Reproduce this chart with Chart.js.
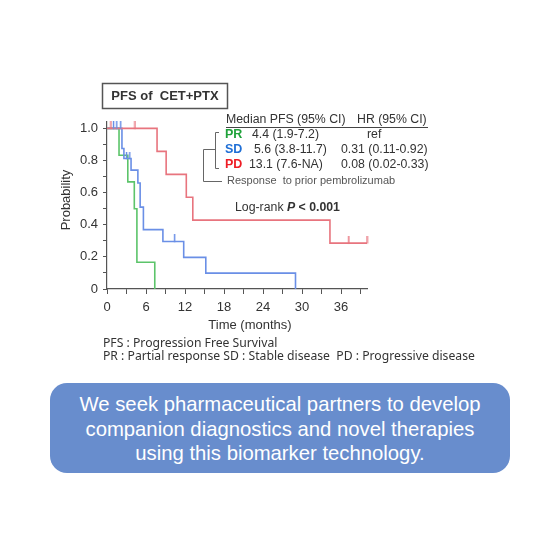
<!DOCTYPE html>
<html>
<head>
<meta charset="utf-8">
<script src="https://cdn.jsdelivr.net/npm/chart.js@4/dist/chart.umd.min.js"></script>
<style>
  html, body { margin: 0; padding: 0; background: #ffffff; }
  #wrap { position: relative; width: 560px; height: 560px; overflow: hidden; }
  #c { position: absolute; left: 0; top: 0; }
  .foot { position: absolute; left: 103px; font-family: "Noto Sans", "DejaVu Sans", sans-serif; font-size: 12.2px; color: #333; white-space: nowrap; line-height: 14px; }
  #banner { position: absolute; left: 50px; top: 383px; width: 460px; height: 90px; border-radius: 17px; background: #688dcd;
            color: #fff; font-family: "Liberation Sans", Arial, sans-serif; font-size: 20.3px; line-height: 24.5px; text-align: center;
            display: flex; align-items: center; justify-content: center; box-sizing: border-box; padding-top: 2px; }
</style>
</head>
<body>
<div id="wrap">
  <canvas id="c" width="560" height="560"></canvas>
  <div class="foot" style="top:336px">PFS : Progression Free Survival</div>
  <div class="foot" style="top:349px">PR : Partial response SD : Stable disease&nbsp; PD : Progressive disease</div>
  <div id="banner"><div>We seek pharmaceutical partners to develop<br>companion diagnostics and novel therapies<br>using this biomarker technology.</div></div>
</div>
<script>
// ---- data ----
const groups = ["PR", "SD", "PD"];
// step times (months) and survival probability after each step
const prTimes = [0, 1.85, 3.2, 4.2, 4.6, 7.35];
const prSurv  = [1.0, 0.833, 0.667, 0.5, 0.167, 0];
const sdTimes = [0, 2.3, 2.6, 3.7, 4.75, 5.1, 5.6, 8.6, 11.8, 15.2, 29.0];
const sdSurv  = [1.0, 0.875, 0.8125, 0.74, 0.66, 0.51, 0.37, 0.296, 0.197, 0.099, 0];
const pdTimes = [0, 7.7, 9.1, 12.2, 13.2, 34.3, 40];
const pdSurv  = [1.0, 0.857, 0.714, 0.571, 0.429, 0.286, 0.286];
// censored times
const prCensor = [];
const sdCensor = [1.0, 1.5, 2.1, 3.0, 3.5, 10.4];
const pdCensor = [0.6, 4.3, 37.2, 40];
// tick labels
const xTickLabels = [0, 6, 12, 18, 24, 30, 36];
const yTickLabels = ["0", "0.2", "0.4", "0.6", "0.8", "1.0"];

const colPR = "#5cc46a", colSD = "#6a8fe6", colPD = "#e8747e";

function toPts(t, s) { return t.map((x, i) => ({ x: x, y: s[i] })); }
function survAt(t, s, x) { let v = s[0]; for (let i = 0; i < t.length; i++) { if (t[i] <= x) v = s[i]; } return v; }
function censorPts(c, t, s) { return c.map(x => ({ x: x, y: survAt(t, s, x) })); }
function tickImg(color) {
  const cv = document.createElement("canvas");
  cv.width = 3; cv.height = 14;
  const g = cv.getContext("2d");
  g.fillStyle = color; g.fillRect(0.8, 0, 1.5, 7.5);
  return cv;
}

const FONT = '"Liberation Sans", Arial, sans-serif';
const TXT = "#333333";

const annot = {
  id: "annot",
  afterDraw(chart) {
    const ctx = chart.ctx;
    ctx.save();
    // title box
    ctx.strokeStyle = "#555"; ctx.lineWidth = 1.5;
    ctx.strokeRect(102.5, 83.5, 125, 25);
    ctx.fillStyle = TXT; ctx.textBaseline = "middle"; ctx.textAlign = "center";
    ctx.font = "bold 13px " + FONT;
    ctx.fillText("PFS of  CET+PTX", 165, 96.5);
    // axis titles
    ctx.font = "13px " + FONT;
    ctx.fillText("Time (months)", 250, 325);
    ctx.save(); ctx.translate(66, 200); ctx.rotate(-Math.PI / 2); ctx.fillText("Probability", 0, 0); ctx.restore();
    // legend table
    ctx.textAlign = "left";
    ctx.font = "12.3px " + FONT;
    ctx.fillStyle = TXT;
    ctx.fillText("Median PFS (95% CI)", 226, 120);
    ctx.fillText("HR (95% CI)", 357, 120);
    ctx.strokeStyle = "#444"; ctx.lineWidth = 1;
    ctx.beginPath(); ctx.moveTo(226, 127.5); ctx.lineTo(428, 127.5); ctx.stroke();
    const rows = [
      ["PR", "#1fa23a", "4.4 (1.9-7.2)", 252, "ref", 367, 135],
      ["SD", "#1f6fd6", "5.6 (3.8-11.7)", 254, "0.31 (0.11-0.92)", 341, 150],
      ["PD", "#ee1c24", "13.1 (7.6-NA)", 249, "0.08 (0.02-0.33)", 341, 165]
    ];
    rows.forEach(r => {
      ctx.font = "bold 12.5px " + FONT; ctx.fillStyle = r[1];
      ctx.fillText(r[0], 225, r[6]);
      ctx.font = "12.3px " + FONT; ctx.fillStyle = TXT;
      ctx.fillText(r[2], r[3], r[6]);
      ctx.fillText(r[4], r[5], r[6]);
    });
    ctx.font = "11px " + FONT; ctx.fillStyle = "#555";
    ctx.fillText("Response  to prior pembrolizumab", 227, 181);
    // bracket
    ctx.strokeStyle = "#666"; ctx.lineWidth = 1;
    ctx.beginPath();
    ctx.moveTo(219, 132.5); ctx.lineTo(215.5, 132.5); ctx.lineTo(215.5, 168.5); ctx.lineTo(219, 168.5);
    ctx.moveTo(215.5, 149.5); ctx.lineTo(203.5, 149.5); ctx.lineTo(203.5, 181.5); ctx.lineTo(222, 181.5);
    ctx.stroke();
    // log-rank
    let x = 235; const y = 208;
    ctx.fillStyle = TXT;
    ctx.font = "12.3px " + FONT; ctx.fillText("Log-rank ", x, y); x += ctx.measureText("Log-rank ").width;
    ctx.font = "italic bold 12.3px " + FONT; ctx.fillText("P", x, y); x += ctx.measureText("P").width;
    ctx.font = "bold 12.3px " + FONT; ctx.fillText(" < 0.001", x, y);
    ctx.restore();
  }
};

const lineDs = (label, t, s, col) => ({
  label: label, data: toPts(t, s), borderColor: col, borderWidth: 1.6, stepped: "before",
  pointRadius: 0, fill: false, clip: false, order: 2
});
const censDs = (label, c, t, s, col) => ({
  label: label + " censored", data: censorPts(c, t, s), showLine: false, pointStyle: tickImg(col),
  pointRadius: 5, pointHoverRadius: 5, clip: false, order: 1
});

new Chart(document.getElementById("c"), {
  type: "line",
  data: {
    datasets: [
      lineDs(groups[2], pdTimes, pdSurv, colPD),
      lineDs(groups[1], sdTimes, sdSurv, colSD),
      lineDs(groups[0], prTimes, prSurv, colPR),
      censDs(groups[2], pdCensor, pdTimes, pdSurv, colPD),
      censDs(groups[1], sdCensor, sdTimes, sdSurv, colSD),
      censDs(groups[0], prCensor, prTimes, prSurv, colPR)
    ]
  },
  options: {
    responsive: false, animation: false,
    layout: { padding: { left: 0, top: 122, right: 193, bottom: 0 } },
    plugins: { legend: { display: false }, tooltip: { enabled: false }, title: { display: false } },
    scales: {
      x: {
        type: "linear", min: 0, max: 40,
        afterBuildTicks: s => { const a = []; for (let v = 0; v <= 39; v += 3) a.push({ value: v }); s.ticks = a; },
        afterFit: s => { s.height = 271; },
        ticks: {
          autoSkip: false, maxRotation: 0, padding: 6, color: TXT, font: { family: FONT, size: 13 },
          callback: v => (xTickLabels.includes(v) ? String(v) : "")
        },
        grid: { drawOnChartArea: false, drawTicks: true, tickLength: 5, color: "#555", lineWidth: 1 },
        border: { color: "#555", width: 1.2 }
      },
      y: {
        type: "linear", min: 0, max: 1.04,
        afterBuildTicks: s => { const a = []; for (let i = 0; i <= 10; i++) a.push({ value: i / 10 }); s.ticks = a; },
        afterFit: s => { s.width = 107; },
        ticks: {
          autoSkip: false, padding: 5, color: TXT, font: { family: FONT, size: 13 },
          callback: v => { const k = Math.round(v * 10); return k % 2 === 0 ? yTickLabels[k / 2] : ""; }
        },
        grid: { drawOnChartArea: false, drawTicks: true, tickLength: 4, color: "#555", lineWidth: 1 },
        border: { color: "#555", width: 1.2 }
      }
    }
  },
  plugins: [annot]
});
</script>
</body>
</html>
